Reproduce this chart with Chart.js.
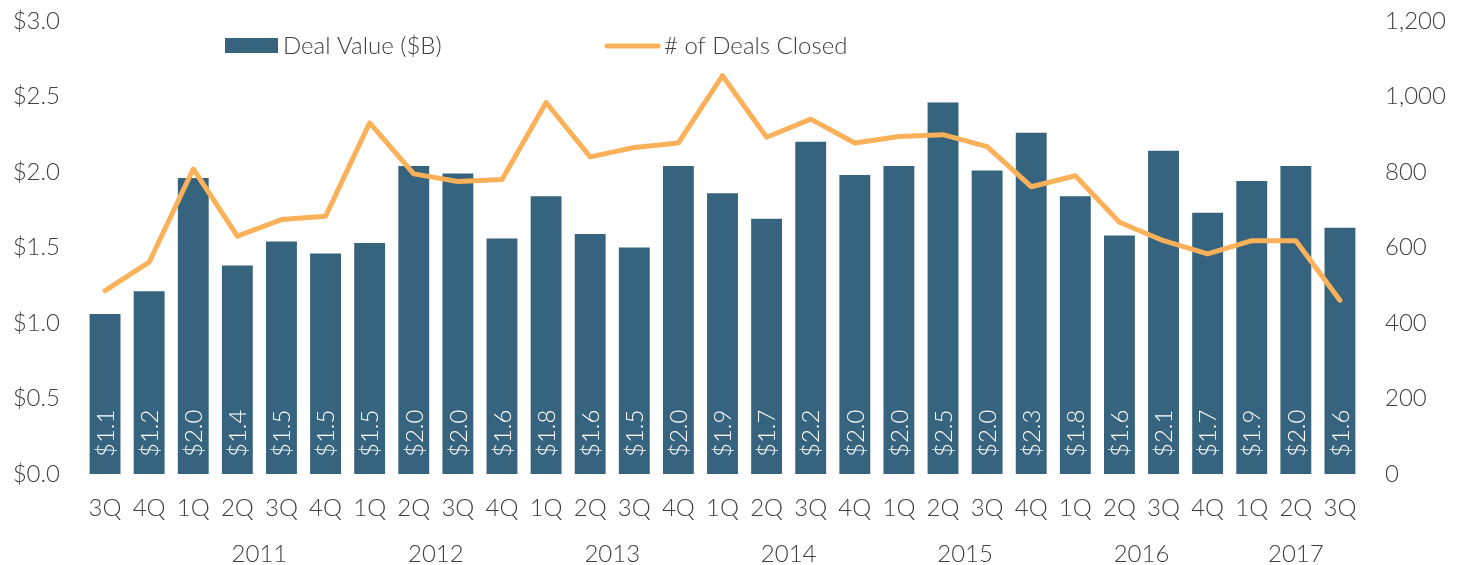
<!DOCTYPE html>
<html>
<head>
<meta charset="utf-8">
<script src="https://cdn.jsdelivr.net/npm/chart.js@4.4.4/dist/chart.umd.min.js"></script>
<style>
  html, body { margin: 0; padding: 0; background: #fff; overflow: hidden; }
  #wrap { width: 1461px; height: 565px; position: relative; }
</style>
</head>
<body>
<div id="wrap"><canvas id="chart" width="1461" height="565"></canvas></div>
<script>
// quarters, 3Q 2010 .. 3Q 2017
const quarters = ['3Q','4Q','1Q','2Q','3Q','4Q','1Q','2Q','3Q','4Q','1Q','2Q','3Q','4Q',
  '1Q','2Q','3Q','4Q','1Q','2Q','3Q','4Q','1Q','2Q','3Q','4Q','1Q','2Q','3Q'];

// year labels and the index of their first quarter
const years = ['2011','2012','2013','2014','2015','2016','2017'];
const yearStart = [2, 6, 10, 14, 18, 22, 26];

// deal value ($B)
const dealValue = [1.06, 1.21, 1.96, 1.38, 1.54, 1.46, 1.53, 2.04, 1.99, 1.56,
  1.84, 1.59, 1.50, 2.04, 1.86, 1.69, 2.20, 1.98, 2.04, 2.46,
  2.01, 2.26, 1.84, 1.58, 2.14, 1.73, 1.94, 2.04, 1.63];

// # of deals closed
const dealCount = [486, 561, 808, 630, 674, 683, 930, 795, 775, 780,
  984, 840, 865, 877, 1055, 892, 940, 877, 894, 899,
  867, 761, 790, 667, 618, 583, 618, 618, 460];

const leftTicks = [0, 0.5, 1, 1.5, 2, 2.5, 3];
const rightTicks = [0, 200, 400, 600, 800, 1000, 1200];

const BAR = '#36637d';
const LINE = '#fbb15a';
const TEXT = '#404040';
const FONT = 'Lato, "Open Sans", sans-serif';
const SIZE = 24;

const extras = {
  id: 'extras',
  afterDatasetsDraw(chart) {
    const ctx = chart.ctx;
    const bars = chart.getDatasetMeta(0).data;
    ctx.save();
    ctx.fillStyle = '#ffffff';
    ctx.font = '300 ' + SIZE + 'px ' + FONT;
    ctx.textAlign = 'left';
    ctx.textBaseline = 'middle';
    bars.forEach((bar, i) => {
      ctx.save();
      ctx.translate(bar.x + 1, bar.base - 17);
      ctx.rotate(-Math.PI / 2);
      ctx.fillText('$' + dealValue[i].toFixed(1), 0, 0);
      ctx.restore();
    });
    ctx.restore();
  },
  afterDraw(chart) {
    const ctx = chart.ctx;
    const x = chart.scales.x;
    ctx.save();
    ctx.fillStyle = TEXT;
    ctx.font = '300 ' + SIZE + 'px ' + FONT;
    ctx.textAlign = 'center';
    ctx.textBaseline = 'middle';
    years.forEach((y, i) => {
      const a = yearStart[i];
      const b = Math.min(a + 3, quarters.length - 1);
      const cx = (x.getPixelForValue(a) + x.getPixelForValue(b)) / 2;
      ctx.fillText(y, cx, 554);
    });

    // legend
    ctx.textAlign = 'left';
    ctx.fillStyle = BAR;
    ctx.fillRect(225, 38, 53, 15);
    ctx.fillStyle = TEXT;
    ctx.fillText(chart.data.datasets[0].label, 283, 46);
    ctx.strokeStyle = LINE;
    ctx.lineWidth = 5;
    ctx.lineCap = 'round';
    ctx.beginPath();
    ctx.moveTo(607, 46);
    ctx.lineTo(658, 46);
    ctx.stroke();
    ctx.fillText(chart.data.datasets[1].label, 664, 46);
    ctx.restore();
  }
};

Chart.defaults.font.family = FONT;
Chart.defaults.font.weight = 300;
Chart.defaults.color = TEXT;

new Chart(document.getElementById('chart'), {
  type: 'bar',
  data: {
    labels: quarters,
    datasets: [{
      label: 'Deal Value ($B)',
      data: dealValue,
      backgroundColor: BAR,
      borderWidth: 0,
      barPercentage: 0.7,
      categoryPercentage: 1,
      yAxisID: 'y',
      order: 2
    }, {
      type: 'line',
      label: '# of Deals Closed',
      data: dealCount,
      borderColor: LINE,
      backgroundColor: LINE,
      borderWidth: 5,
      borderCapStyle: 'round',
      borderJoinStyle: 'round',
      pointRadius: 0,
      tension: 0,
      yAxisID: 'y1',
      order: 1
    }]
  },
  options: {
    responsive: false,
    animation: false,
    devicePixelRatio: 1,
    layout: { padding: { top: 21, left: 0, right: 0, bottom: 0 } },
    plugins: { legend: { display: false }, tooltip: { enabled: false } },
    scales: {
      x: {
        grid: { display: false, drawTicks: false },
        border: { display: false },
        ticks: { padding: 20, font: { size: SIZE, weight: 300 }, color: TEXT, maxRotation: 0, autoSkip: false },
        afterFit(s) { s.height = 91; s.paddingLeft = 0; s.paddingRight = 0; }
      },
      y: {
        position: 'left',
        min: 0, max: 3,
        grid: { display: false, drawTicks: false },
        border: { display: false },
        afterBuildTicks(s) { s.ticks = leftTicks.map(v => ({ value: v })); },
        ticks: { padding: 23, font: { size: SIZE, weight: 300 }, color: TEXT,
          callback: v => '$' + Number(v).toFixed(1) },
        afterFit(s) { s.width = 83; s.paddingTop = 0; s.paddingBottom = 0; }
      },
      y1: {
        position: 'right',
        min: 0, max: 1200,
        grid: { display: false, drawTicks: false },
        border: { display: false },
        afterBuildTicks(s) { s.ticks = rightTicks.map(v => ({ value: v })); },
        ticks: { padding: 23, font: { size: SIZE, weight: 300 }, color: TEXT,
          callback: v => Number(v).toLocaleString('en-US') },
        afterFit(s) { s.width = 99; s.paddingTop = 0; s.paddingBottom = 0; }
      }
    }
  },
  plugins: [extras]
});
</script>
</body>
</html>
